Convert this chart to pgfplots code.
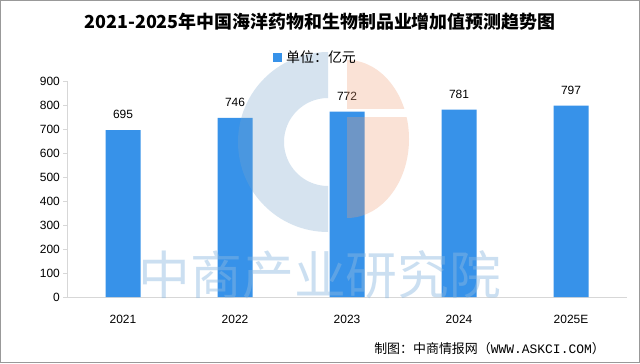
\documentclass[border=0pt]{standalone}
\usepackage{fontspec}
\usepackage{pgfplots}
\pgfplotsset{compat=1.18}
\setmainfont{Liberation Sans}
\newfontfamily\cjk{Noto Sans CJK SC}
\newfontfamily\mono{Liberation Mono}
\definecolor{barblue}{RGB}{55,146,233}
\definecolor{axgray}{RGB}{215,215,215}
\definecolor{wmblue}{RGB}{120,165,205}
\definecolor{wmorange}{RGB}{240,160,120}
\definecolor{wmtext}{RGB}{140,185,225}
\begin{document}
\begin{tikzpicture}[x=1bp,y=1bp]
\fill[white] (0,0) rectangle (640,363);
\begin{axis}[
  at={(67bp,66bp)}, anchor=south west,
  scale only axis, width=560bp, height=216bp,
  xmin=-0.5, xmax=4.5, ymin=0, ymax=900,
  ytick={0,100,...,900},
  xtick={0,...,4}, xticklabels={2021,2022,2023,2024,2025E},
  extra x ticks={-0.5,0.5,1.5,2.5,3.5,4.5}, extra x tick labels={},
  axis x line*=bottom, axis y line*=left,
  axis line style={axgray, line width=1bp},
  tick align=outside,
  major tick length=4bp,
  x tick style={draw=none},
  extra x tick style={tick style={draw=axgray, line width=1bp}},
  y tick style={draw=axgray, line width=1bp},
  /pgf/number format/assume math mode=true,
  tick label style={font=\fontsize{12}{12}\selectfont, text=black},
  yticklabel style={inner sep=0pt, xshift=-3bp},
  xticklabel style={inner sep=0pt, anchor=north, yshift=-14bp},
  ybar, bar width=35bp,
  nodes near coords,
  nodes near coords style={font=\fontsize{12}{12}\selectfont, text=black, inner sep=0pt, anchor=south, yshift=11bp},
]
\addplot[fill=barblue, draw=none] coordinates {(0,695) (1,746) (2,772) (3,781) (4,797)};
\end{axis}
% faint logo watermark (drawn over everything, semi-transparent)
\begin{scope}[opacity=0.3]
\fill[wmblue] (328,221) ++(0,90) arc (90:270:90) -- ++(0,46) arc (270:90:44) -- cycle;
\begin{scope}
\clip (340,255) rectangle (420,310);
\fill[wmorange] (347,224) ++(0,79) arc (90:0:62 and 79) arc (0:-90:62 and 79) -- cycle;
\end{scope}
\begin{scope}
\clip (340,140) rectangle (420,246);
\fill[wmorange] (347,224) ++(0,79) arc (90:0:62 and 79) arc (0:-90:62 and 79) -- cycle;
\end{scope}
\end{scope}
% watermark text
\node[text=wmtext, opacity=0.45] at (320,88) {\cjk\fontsize{52}{52}\selectfont 中商产业研究院};
% title
\node at (320,341) {\cjk\bfseries\fontsize{18}{18}\selectfont 2021-2025年中国海洋药物和生物制品业增加值预测趋势图};
% legend
\fill[barblue] (273,301) rectangle (282,310);
\node[anchor=west, inner sep=0pt] at (286,305.5) {\cjk\fontsize{14}{14}\selectfont 单位：亿元};
% footer
\node[anchor=east, inner sep=0pt] at (605,14) {\cjk\fontsize{13}{13}\selectfont 制图：中商情报网（{\mono WWW.ASKCI.COM}）};
% frame
\draw[gray!80, line width=1bp] (0.5,0.5) rectangle (639.5,362.5);
\end{tikzpicture}
\end{document}
